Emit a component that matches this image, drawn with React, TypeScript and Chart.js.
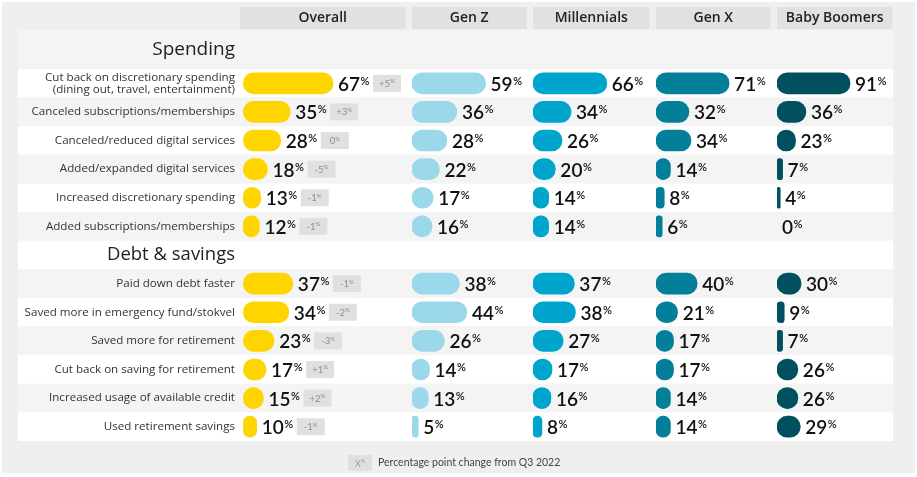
import React, { useEffect, useRef } from "react";
import { Chart, registerables } from "chart.js";

Chart.register(...registerables);

// ---------- data ----------
const rowLabels: (string | string[])[] = [
  ["Cut back on discretionary spending", "(dining out, travel, entertainment)"],
  "Canceled subscriptions/memberships",
  "Canceled/reduced digital services",
  "Added/expanded digital services",
  "Increased discretionary spending",
  "Added subscriptions/memberships",
  "Debt & savings",
  "Paid down debt faster",
  "Saved more in emergency fund/stokvel",
  "Saved more for retirement",
  "Cut back on saving for retirement",
  "Increased usage of available credit",
  "Used retirement savings",
];
const sectionTitle = "Spending";
const headingRows = [6];
const groups = ["Overall", "Gen Z", "Millennials", "Gen X", "Baby Boomers"];
const overall = [67, 35, 28, 18, 13, 12, null, 37, 34, 23, 17, 15, 10];
const genZ = [59, 36, 28, 22, 17, 16, null, 38, 44, 26, 14, 13, 5];
const millennials = [66, 34, 26, 20, 14, 14, null, 37, 38, 27, 17, 16, 8];
const genX = [71, 32, 34, 14, 8, 6, null, 40, 21, 17, 17, 14, 14];
const boomers = [91, 36, 23, 7, 4, 0, null, 30, 9, 7, 26, 26, 29];
const overallChange = [5, 3, 0, -5, -1, -1, null, -1, -2, -3, 1, 2, -1];
const legendText = "Percentage point change from Q3 2022";

// ---------- style ----------
const colors = ["#FFD500", "#9AD8EA", "#00A5CD", "#037F9A", "#00505F"];
const FONT = "Lato, 'Open Sans', sans-serif";
const LFONT = "'Open Sans', Lato, sans-serif";
// column sizing (layout only)
const colWeights = [172, 121, 123, 121, 122];
const colRanges = [
  [-2.5, 126],
  [0, 97],
  [0, 110],
  [0, 117.5],
  [0, 152],
];

const decorPlugin = {
  id: "decor",
  beforeDraw(chart: any) {
    const { ctx } = chart;
    const y = chart.scales.y;
    const last = chart.scales["x" + (groups.length - 1)];
    const panelL = 18;
    const panelR = last.right - 6;
    const pitch = (y.bottom - y.top) / rowLabels.length;
    ctx.save();
    ctx.fillStyle = "#ffffff";
    ctx.fillRect(0, 0, chart.width, chart.height);
    ctx.fillStyle = "#efefef";
    ctx.fillRect(2, 2, chart.width - 4, chart.height - 6);
    // heading band
    ctx.fillStyle = "#f4f4f4";
    ctx.fillRect(panelL, 30, panelR - panelL, y.top - 30);
    rowLabels.forEach((_, i) => {
      const c = y.getPixelForValue(i);
      ctx.fillStyle = i % 2 === 0 ? "#ffffff" : "#f4f4f4";
      ctx.fillRect(panelL, c - pitch / 2, panelR - panelL, pitch);
    });
    // header boxes
    groups.forEach((g, k) => {
      const s = chart.scales["x" + k];
      const l = s.left;
      const r = s.right - 6.5;
      ctx.fillStyle = "#e1e1e1";
      ctx.fillRect(l, 7, r - l, 22);
      ctx.fillStyle = "#222222";
      ctx.font = `600 14px ${LFONT}`;
      ctx.textAlign = "center";
      ctx.textBaseline = "middle";
      ctx.fillText(g, (l + r) / 2, 18.5);
    });
    // section title
    ctx.font = `19px ${LFONT}`;
    ctx.textAlign = "right";
    ctx.textBaseline = "middle";
    ctx.fillStyle = "#222222";
    ctx.fillText(sectionTitle, y.right - 5, 50);
    // legend
    const lx = 348;
    const ly = 463;
    ctx.fillStyle = "#e0e0e0";
    ctx.fillRect(lx, ly - 8, 24, 16);
    ctx.fillStyle = "#999999";
    ctx.textAlign = "left";
    ctx.textBaseline = "alphabetic";
    ctx.font = `9px ${FONT}`;
    ctx.fillText("X", lx + 7, ly + 3.5);
    const xw = ctx.measureText("X").width;
    ctx.font = `6px ${FONT}`;
    ctx.fillText("%", lx + 7 + xw, ly);
    ctx.fillStyle = "#444444";
    ctx.font = `10.5px ${FONT}`;
    ctx.textBaseline = "middle";
    ctx.fillText(legendText, 378, ly);
    ctx.restore();
  },
};

const labelPlugin = {
  id: "labels",
  afterDatasetsDraw(chart: any) {
    const { ctx } = chart;
    ctx.save();
    chart.data.datasets.forEach((ds: any, k: number) => {
      const meta = chart.getDatasetMeta(k);
      meta.data.forEach((el: any, j: number) => {
        const v = ds.data[j];
        if (v === null || v === undefined) return;
        const x0 = el.x + 5;
        const yc = el.y;
        const num = String(v);
        ctx.fillStyle = "#111111";
        ctx.textAlign = "left";
        ctx.textBaseline = "alphabetic";
        ctx.font = `600 19px ${FONT}`;
        ctx.fillText(num, x0, yc + 7.5);
        const w = ctx.measureText(num).width;
        ctx.font = `600 11px ${FONT}`;
        ctx.fillText("%", x0 + w + 0.5, yc + 1.5);
        const pw = ctx.measureText("%").width;
        if (k === 0) {
          const c = overallChange[j];
          if (c === null || c === undefined) return;
          const bx = x0 + w + pw + 4;
          ctx.fillStyle = "#e0e0e0";
          ctx.fillRect(bx, yc - 8.5, 28, 17);
          const t = c > 0 ? "+" + c : String(c);
          ctx.font = `9.5px ${FONT}`;
          const tw = ctx.measureText(t).width;
          ctx.font = `6px ${FONT}`;
          const sw = ctx.measureText("%").width;
          const sx = bx + 14 - (tw + sw) / 2;
          ctx.fillStyle = "#8e8e8e";
          ctx.font = `9.5px ${FONT}`;
          ctx.fillText(t, sx, yc + 3.5);
          ctx.font = `6px ${FONT}`;
          ctx.fillText("%", sx + tw, yc);
        }
      });
    });
    ctx.restore();
  },
};

export default function App() {
  const ref = useRef<HTMLCanvasElement | null>(null);
  useEffect(() => {
    document.body.style.margin = "0";
    const canvas = ref.current;
    if (!canvas) return;
    const series = [overall, genZ, millennials, genX, boomers];
    const scales: any = {
      y: {
        type: "category",
        position: "left",
        labels: rowLabels,
        grid: { display: false, drawTicks: false },
        border: { display: false },
        afterFit: (s: any) => {
          s.width = 240;
        },
        ticks: {
          autoSkip: false,
          padding: 5,
          color: (c: any) => (headingRows.includes(c.index) ? "#222222" : "#333333"),
          font: (c: any) =>
            headingRows.includes(c.index)
              ? { family: LFONT, size: 18.5, lineHeight: 1.1 }
              : { family: LFONT, size: 11.6, lineHeight: 1.05 },
        },
      },
    };
    groups.forEach((_, k) => {
      scales["x" + k] = {
        type: "linear",
        position: "bottom",
        stack: "cols",
        stackWeight: colWeights[k],
        min: colRanges[k][0],
        max: colRanges[k][1],
        display: false,
        grid: { display: false },
      };
    });
    const chart = new Chart(canvas, {
      type: "bar",
      data: {
        labels: rowLabels as any,
        datasets: series.map((d, k) => ({
          label: groups[k],
          data: d as any,
          xAxisID: "x" + k,
          yAxisID: "y",
          backgroundColor: (c: any) => (c.raw === 0 ? "rgba(0,0,0,0)" : colors[k]),
          borderRadius: 12,
          borderSkipped: false,
          barThickness: 21,
          grouped: false,
        })),
      },
      options: {
        indexAxis: "y",
        animation: false,
        responsive: false,
        maintainAspectRatio: false,
        devicePixelRatio: 1,
        layout: { padding: { left: 0, right: 18, top: 69, bottom: 36 } },
        plugins: { legend: { display: false }, tooltip: { enabled: false } },
        scales,
      },
      plugins: [decorPlugin, labelPlugin],
    });
    return () => chart.destroy();
  }, []);
  return (
    <canvas
      ref={ref}
      width={917}
      height={477}
      style={{ display: "block", width: 917, height: 477 }}
    />
  );
}
